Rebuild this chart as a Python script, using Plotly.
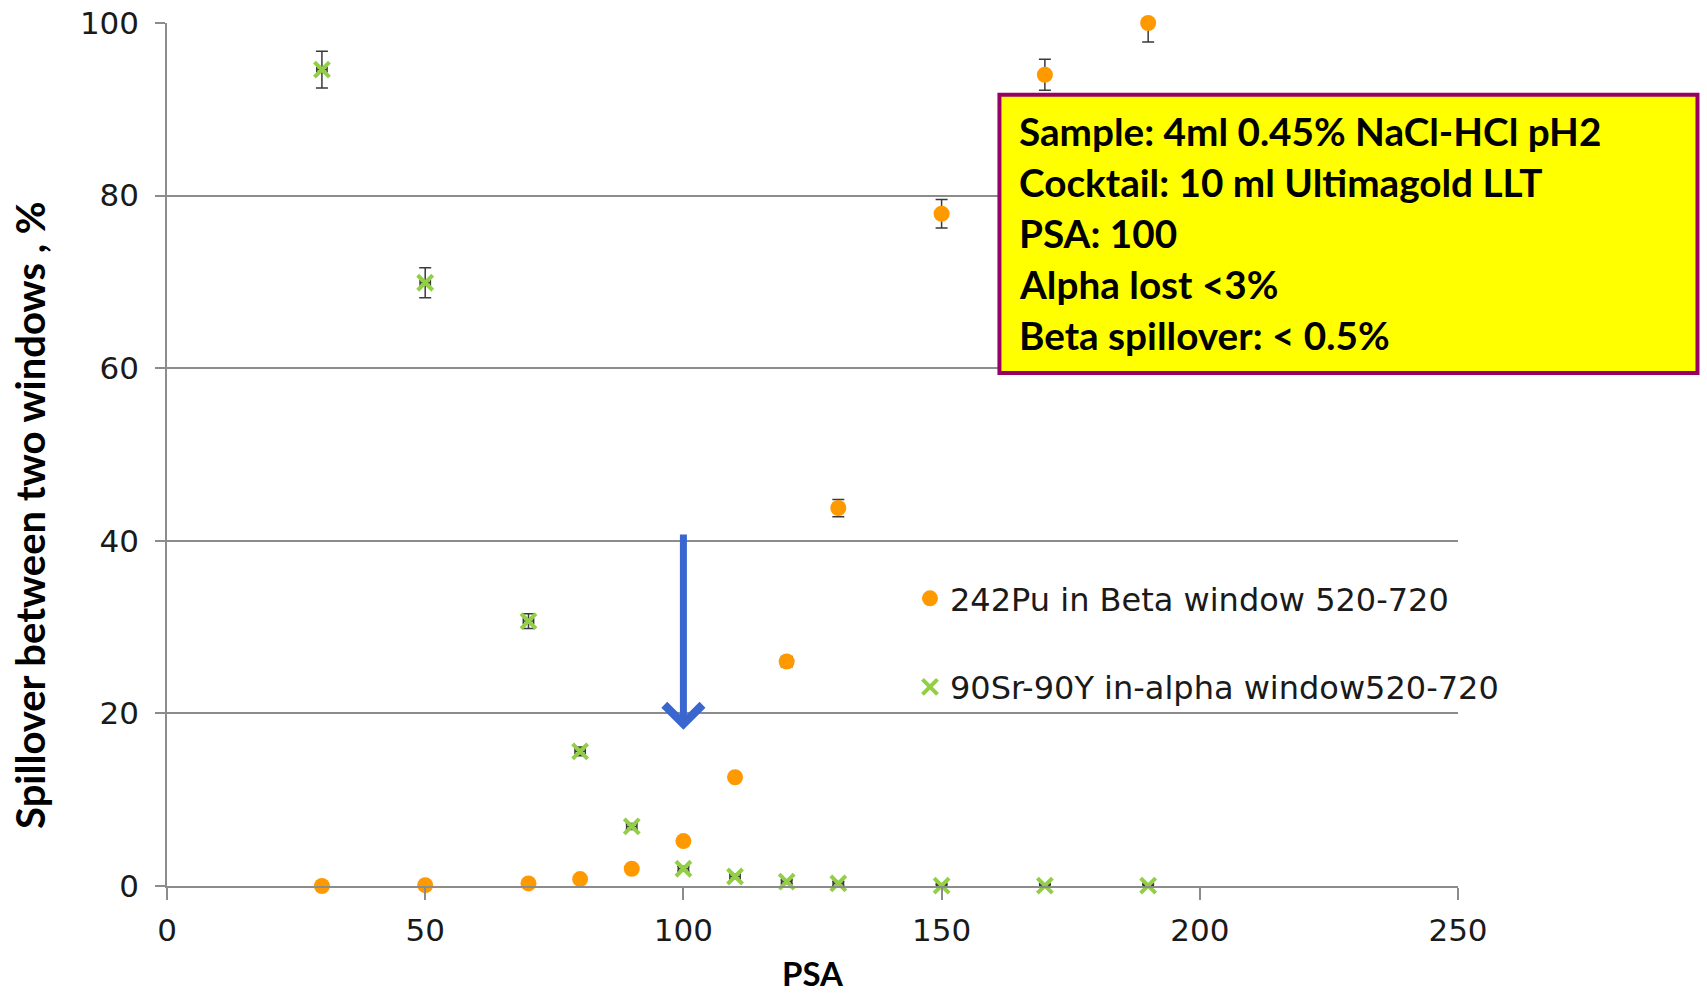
import plotly.graph_objects as go

# PSA settings
psa = [30, 50, 70, 80, 90, 100, 110, 120, 130, 150, 170, 190]

# 242Pu counted in the beta window (%)
pu_beta = [0.0, 0.1, 0.3, 0.8, 2.0, 5.2, 12.6, 26.0, 43.8, 77.9, 94.0, 100.0]
pu_err_plus = [0.1, 0.1, 0.1, 0.2, 0.2, 0.3, 0.4, 0.6, 1.0, 1.65, 1.8, 0.0]
pu_err_minus = [0.1, 0.1, 0.1, 0.2, 0.2, 0.3, 0.4, 0.6, 1.0, 1.65, 1.8, 2.2]

# 90Sr-90Y counted in the alpha window (%)
sr_alpha = [94.6, 69.9, 30.7, 15.6, 6.9, 2.0, 1.1, 0.5, 0.3, 0.05, 0.05, 0.05]
sr_err = [2.14, 1.74, 0.85, 0.5, 0.35, 0.3, 0.25, 0.2, 0.2, 0.15, 0.15, 0.15]

psa_err = [1.0] * len(psa)

note_lines = [
    "Sample: 4ml 0.45% NaCl-HCl pH2",
    "Cocktail: 10 ml Ultimagold LLT",
    "PSA: 100",
    "Alpha lost <3%",
    "Beta spillover: < 0.5%",
]

ORANGE = "#FF9900"
GREEN = "#92CF44"
GRID = "#8C8C8C"
ERR = "#3A3A3A"
TITLE_FONT = "Lato, 'DejaVu Sans Condensed', sans-serif"
BODY_FONT = "'DejaVu Sans', Verdana, sans-serif"

fig = go.Figure()

fig.add_trace(go.Scatter(
    x=psa, y=pu_beta, mode="markers",
    name="242Pu in Beta window 520-720",
    legendgroup="pu", cliponaxis=False,
    marker=dict(symbol="circle", size=16, color=ORANGE),
    error_y=dict(type="data", array=pu_err_plus, arrayminus=pu_err_minus,
                 symmetric=False, color=ERR, thickness=1.5, width=6),
    error_x=dict(type="data", array=psa_err, color=ERR, thickness=1.5, width=3),
))

fig.add_trace(go.Scatter(
    x=psa, y=sr_alpha, mode="markers",
    name="90Sr-90Y in-alpha window520-720",
    legendgroup="sr", cliponaxis=False,
    marker=dict(symbol="x-thin-open", size=15, color=GREEN,
                line=dict(color=GREEN, width=4)),
    error_y=dict(type="data", array=sr_err, color=ERR, thickness=1.5, width=6),
    error_x=dict(type="data", array=psa_err, color=ERR, thickness=1.5, width=3),
))

# arrow marking the chosen PSA setting
fig.add_annotation(
    x=100, y=18.1, ax=100, ay=40.9, xref="x", yref="y", axref="x", ayref="y",
    text="", showarrow=True, arrowhead=4, arrowsize=1.05, arrowwidth=7,
    arrowcolor="#3A66D0",
)

# conditions box
fig.add_shape(
    type="rect", xref="paper", yref="paper",
    x0=0.6448, x1=1.1855, y0=0.5944, y1=0.9169,
    fillcolor="#FFFF00", line=dict(color="#990066", width=4), layer="above",
)
line_top = 0.8753
line_step = 51 / 863
for i, line in enumerate(note_lines):
    fig.add_annotation(
        x=0.6584, y=line_top - i * line_step, xref="paper", yref="paper",
        xanchor="left", yanchor="middle", showarrow=False, text=line,
        font=dict(family=TITLE_FONT, size=38.7, color="black", weight="bold"),
    )

# axis titles
fig.add_annotation(
    x=-0.1061, y=0.43, xref="paper", yref="paper", textangle=-90,
    xanchor="center", yanchor="middle", showarrow=False,
    text="Spillover between two windows , %",
    font=dict(family=TITLE_FONT, size=40, color="black", weight="bold"),
)
fig.add_annotation(
    x=0.5, y=-0.1265, xref="paper", yref="paper",
    xanchor="center", yanchor="bottom", showarrow=False, text="PSA",
    font=dict(family=TITLE_FONT, size=33, color="black", weight="bold"),
)

fig.update_layout(
    width=1707, height=996,
    margin=dict(l=167, r=249, t=23, b=110, autoexpand=False),
    paper_bgcolor="white", plot_bgcolor="white",
    showlegend=True,
    legend=dict(
        x=0.5755, y=0.365, xanchor="left", yanchor="top",
        bgcolor="rgba(0,0,0,0)", tracegroupgap=44,
        font=dict(family=BODY_FONT, size=32, color="#1A1A1A"),
    ),
    xaxis=dict(
        range=[0, 250], dtick=50, tick0=0, automargin=False,
        showgrid=False, zeroline=False,
        showline=True, linecolor=GRID, linewidth=1.5,
        ticks="outside", ticklen=12, tickcolor=GRID, tickwidth=1.5,
        ticklabelstandoff=4,
        tickfont=dict(family=BODY_FONT, size=31, color="#1A1A1A"),
    ),
    yaxis=dict(
        range=[0, 100], dtick=20, tick0=0, automargin=False,
        showgrid=True, gridcolor=GRID, gridwidth=1.5, zeroline=False,
        showline=True, linecolor=GRID, linewidth=1.5,
        ticks="outside", ticklen=10, tickcolor=GRID, tickwidth=1.5,
        ticklabelstandoff=10,
        tickfont=dict(family=BODY_FONT, size=31, color="#1A1A1A"),
    ),
)

fig.write_html("out.html")
